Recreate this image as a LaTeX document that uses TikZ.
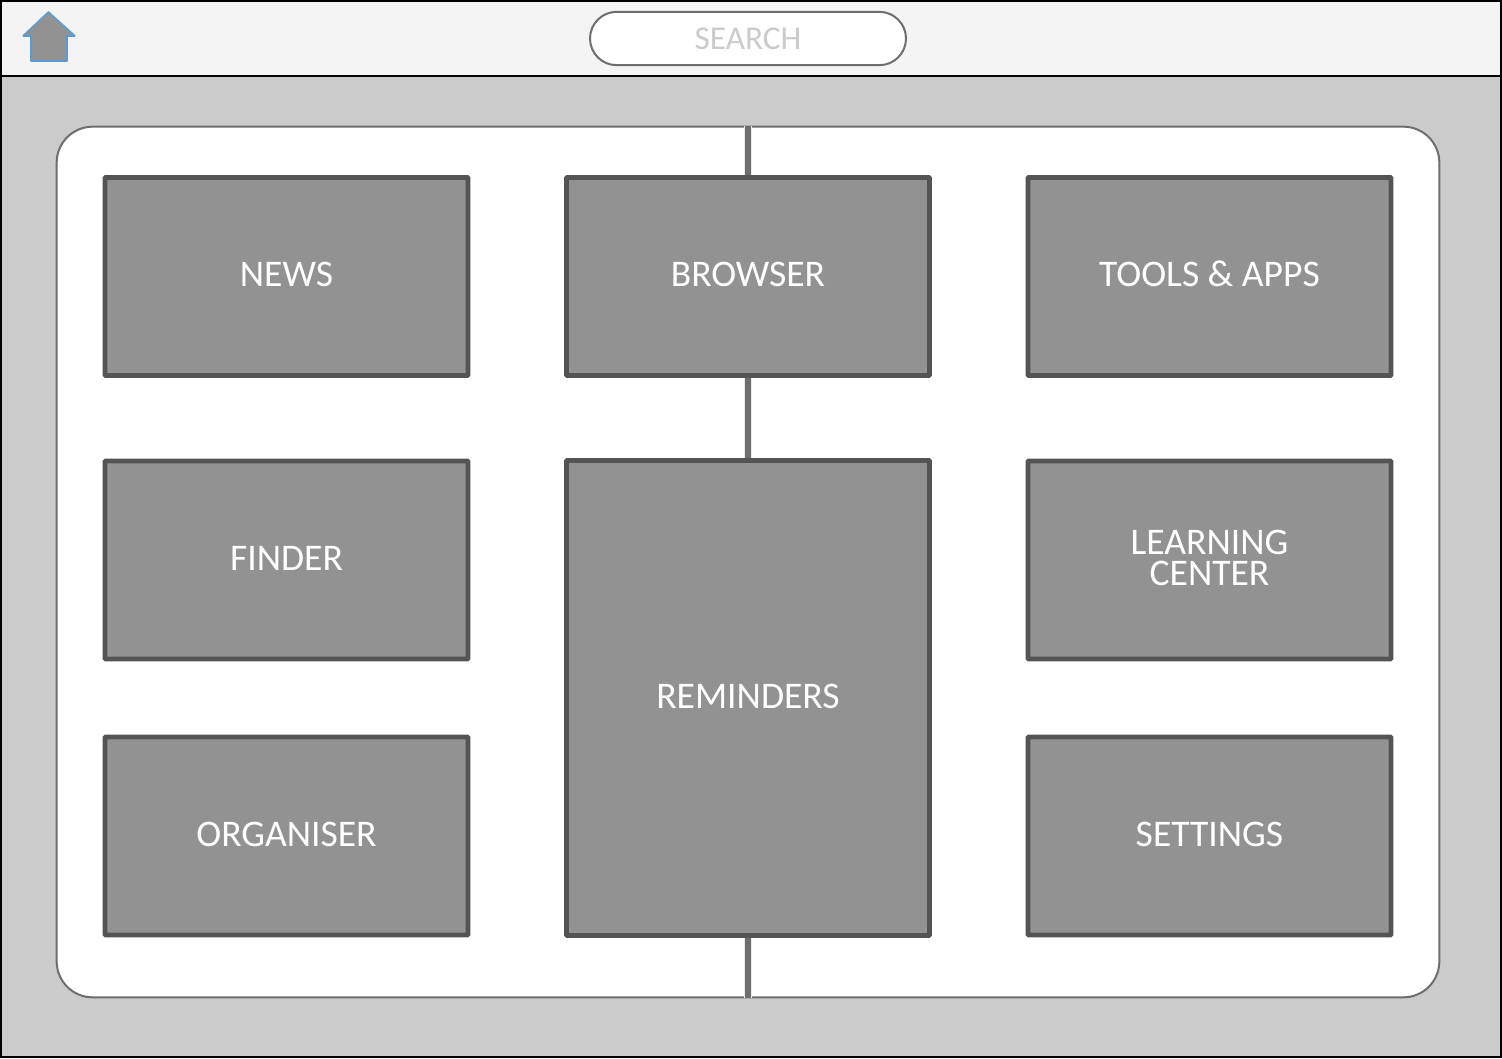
\documentclass[tikz,border=0pt]{standalone}
\usepackage{fontspec}
\setmainfont{Carlito}
\definecolor{bargray}{HTML}{F4F4F4}
\definecolor{pagegray}{HTML}{CBCBCB}
\definecolor{boxfill}{HTML}{929292}
\definecolor{boxline}{HTML}{545454}
\definecolor{linegray}{HTML}{6E6E6E}
\definecolor{homeblue}{HTML}{5B9BD5}
\newcommand{\tiletext}[1]{\raisebox{-7.85pt}[0pt][0pt]{#1}}
\tikzset{
  x=0.75pt,y=-0.75pt,
  tile/.style={draw=boxline,fill=boxfill,line width=3.5pt,rounded corners=0.5pt,text=white,
    font=\fontsize{28.2}{23.25}\selectfont,align=center,inner sep=0pt,minimum width=272.25pt},
  shorttile/.style={tile,minimum height=148.5pt},
  talltile/.style={tile,minimum height=356.25pt},
  link/.style={draw=linegray,line width=3.8pt},
  linkglow/.style={draw=black!8,line width=5.5pt},
}
\begin{document}
\begin{tikzpicture}
\useasboundingbox (0,0) rectangle (1502,1058);
\path[fill=pagegray] (0,0) rectangle (1502,1058);
\path[fill=bargray] (0,0) rectangle (1502,76);
\draw[black,line width=1.5pt] (1,1) rectangle (1501,1057);
\draw[black,line width=1.5pt] (0,75.5) -- (1502,75.5);
\node[draw=linegray,fill=white,line width=1.5pt,rounded corners=27pt,minimum width=1037pt,minimum height=653pt,inner sep=0pt] (panel) at (748,562) {};
\draw[fill=boxfill,draw=homeblue,line width=1.2pt,line join=bevel]
  (48.5,12) -- (75,36) -- (67,36) -- (67,61) -- (31,61) -- (31,36) -- (23,36) -- cycle;
\node[draw=linegray,fill=white,line width=1.5pt,rounded corners=20pt,minimum width=237pt,minimum height=40pt,
  inner sep=0pt,text=pagegray,font=\fontsize{25}{26}\selectfont] (search) at (748,38.5) {\raisebox{-0.6pt}{SEARCH}};
\node[shorttile] (news) at (286.5,276.5) {\tiletext{NEWS}};
\node[shorttile] (browser) at (748,276.5) {\tiletext{BROWSER}};
\node[shorttile] (tools) at (1209.5,276.5) {\tiletext{TOOLS \& APPS}};
\node[shorttile] (finder) at (286.5,560) {\tiletext{FINDER}};
\node[talltile] (reminders) at (748,698) {\tiletext{REMINDERS}};
\node[shorttile] (learning) at (1209.5,560) {\tiletext{LEARNING}\\\tiletext{CENTER}};
\node[shorttile] (organiser) at (286.5,836) {\tiletext{ORGANISER}};
\node[shorttile] (settings) at (1209.5,836) {\tiletext{SETTINGS}};
\draw[linkglow] (browser.north) -- (panel.north);
\draw[linkglow] (browser.south) -- (reminders.north);
\draw[linkglow] (reminders.south) -- (panel.south);
\draw[link] (browser.north) -- (panel.north);
\draw[link] (browser.south) -- (reminders.north);
\draw[link] (reminders.south) -- (panel.south);
\end{tikzpicture}
\end{document}
